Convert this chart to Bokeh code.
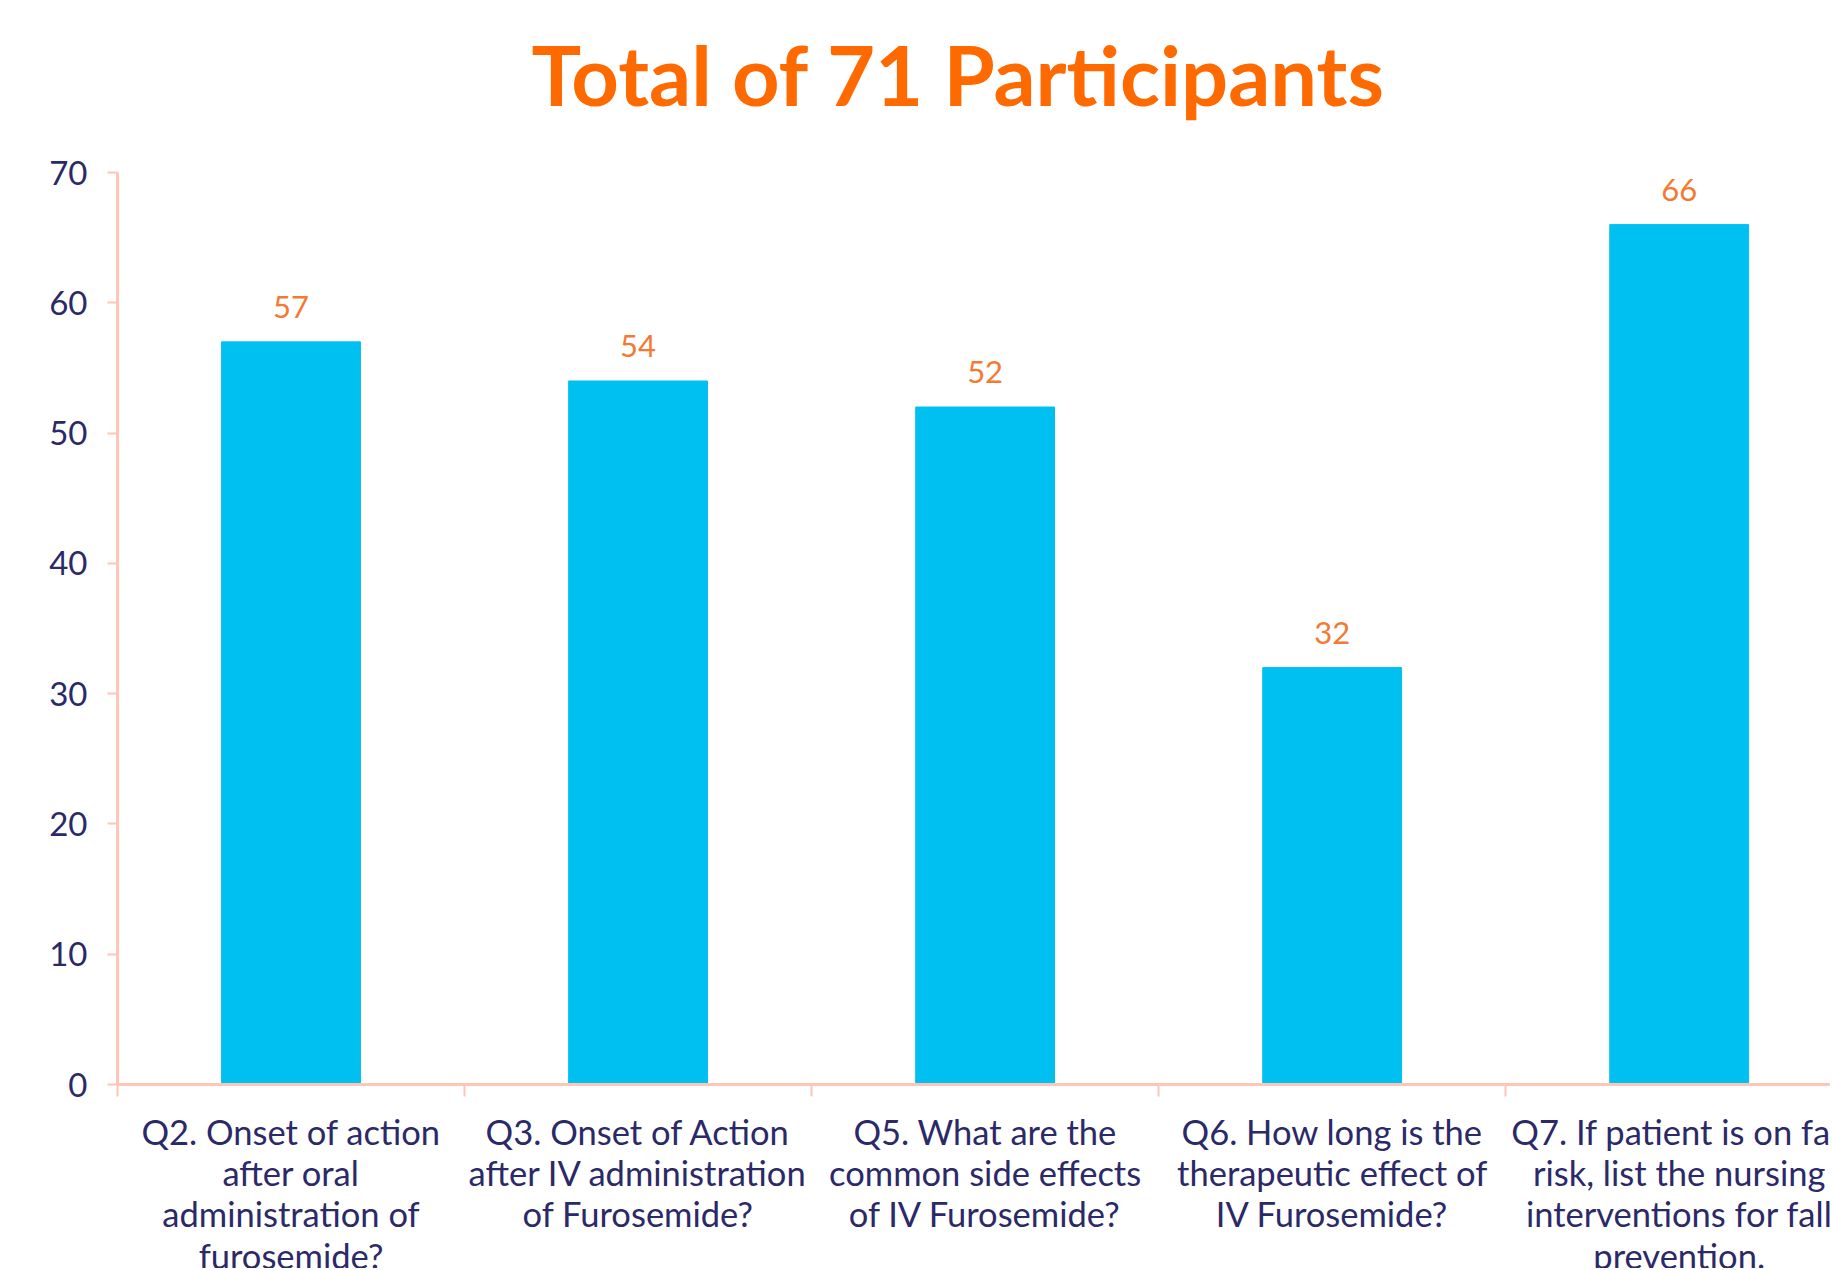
from bokeh.plotting import figure
from bokeh.models import FixedTicker, Range1d, ColumnDataSource
from bokeh.layouts import column
from bokeh.core.properties import value
from bokeh.embed import file_html
from bokeh.resources import INLINE

# ---- data ----
categories = [
    "Q2. Onset of action\nafter oral\nadministration of\nfurosemide?",
    "Q3. Onset of Action\nafter IV administration\nof Furosemide?",
    "Q5. What are the\ncommon side effects\nof IV Furosemide?",
    "Q6. How long is the\ntherapeutic effect of\nIV Furosemide?",
    "Q7. If patient is on fall\nrisk, list the nursing\ninterventions for fall\nprevention.",
]
values = [57, 54, 52, 32, 66]
y_ticks = [0, 10, 20, 30, 40, 50, 60, 70]
title_text = "Total of 71 Participants"

# ---- positions from category index ----
centers = [i + 0.5 for i in range(len(categories))]
bounds = [i for i in range(len(categories))]

src = ColumnDataSource(dict(x=centers, v=values, lbl=[str(v) for v in values]))

FONT = "Lato"
NAVY = "#2B2968"
AXIS = "#FDC6B6"
BAR = "#00C0F2"
ORANGE = "#F37A33"
W = 1830
LEFT = 117
TITLE_H = 152
CHART_H = 952
LABEL_H = 164


def clean(fig):
    fig.outline_line_color = None
    fig.background_fill_color = "white"
    fig.border_fill_color = "white"
    fig.xgrid.visible = False
    fig.ygrid.visible = False


# ---- title strip (x in page pixels, same left border as the chart) ----
pt = figure(width=W, height=TITLE_H, x_range=Range1d(LEFT, W), y_range=Range1d(-TITLE_H, 0),
            output_backend="svg", toolbar_location=None, title=None,
            x_axis_location=None, y_axis_location=None,
            min_border_left=LEFT, min_border_right=0, min_border_top=0, min_border_bottom=0)
clean(pt)
pt.text(x=[958], y=[-73], text=[title_text], text_align="center", text_baseline="alphabetic",
        text_font=value(FONT), text_font_size="83px", text_font_style="bold",
        text_color="#FF6A00")

# ---- chart ----
x_range = Range1d(0, 4.936)
p = figure(
    width=W, height=CHART_H,
    x_range=x_range, y_range=Range1d(0, 70),
    output_backend="svg", toolbar_location=None, title=None,
    min_border_left=LEFT, min_border_right=0,
    min_border_top=20, min_border_bottom=20,
)
clean(p)

p.vbar(x="x", top="v", width=0.4, source=src, color=BAR)
p.text(x="x", y="v", text="lbl", source=src, text_align="center",
       text_baseline="alphabetic", y_offset=-35,
       text_font=value(FONT), text_font_size="31px", text_color=ORANGE)

xa = p.xaxis[0]
xa.ticker = FixedTicker(ticks=centers, minor_ticks=bounds)
xa.major_label_overrides = {c: "" for c in centers}
xa.major_label_text_font_size = "1px"
xa.major_label_standoff = 0
xa.major_tick_out = 0
xa.major_tick_in = 0
xa.minor_tick_out = 12
xa.minor_tick_in = 0
xa.minor_tick_line_color = AXIS
xa.minor_tick_line_width = 2
xa.axis_line_color = AXIS
xa.axis_line_width = 3

ya = p.yaxis[0]
ya.ticker = FixedTicker(ticks=y_ticks)
ya.major_tick_out = 10
ya.major_tick_in = 0
ya.minor_tick_out = 0
ya.minor_tick_in = 0
ya.major_tick_line_color = AXIS
ya.major_tick_line_width = 2
ya.axis_line_color = AXIS
ya.axis_line_width = 3
ya.major_label_standoff = 20
ya.major_label_text_font = FONT
ya.major_label_text_font_size = "33px"
ya.major_label_text_color = NAVY

# ---- category labels strip (shares the chart's x scale) ----
pl = figure(width=W, height=LABEL_H, x_range=x_range, y_range=Range1d(-LABEL_H, 0),
            output_backend="svg", toolbar_location=None, title=None,
            x_axis_location=None, y_axis_location=None,
            min_border_left=LEFT, min_border_right=0, min_border_top=0, min_border_bottom=0)
clean(pl)
lab_src = ColumnDataSource(dict(x=centers, y=[-6] * len(categories), t=categories))
pl.text(x="x", y="y", text="t", source=lab_src, text_align="center", text_baseline="top",
        text_font=value(FONT), text_font_size="34.5px", text_color=NAVY,
        text_line_height=1.01)

layout = column(pt, p, pl, spacing=0)
open("out.html", "w").write(file_html(layout, INLINE))
